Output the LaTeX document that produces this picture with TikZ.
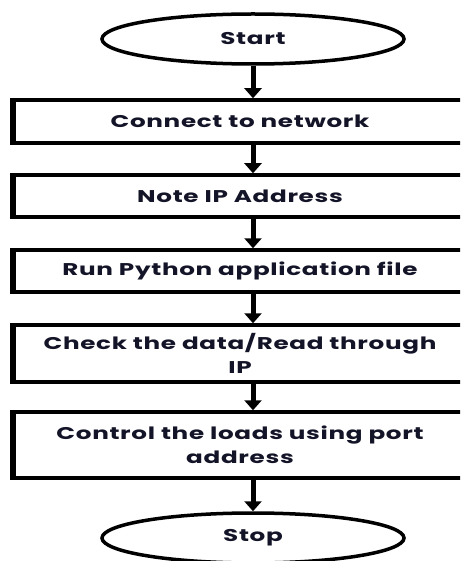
\documentclass[tikz,border=0pt]{standalone}
\usepackage{fontspec}
\setmainfont{Poppins}[UprightFont=* Bold, FakeStretch=1.45, LetterSpace=4]
\usetikzlibrary{arrows.meta,shapes.geometric}
\definecolor{txt}{HTML}{141428}
\tikzset{
  box/.style={draw=black, line width=3.5pt, minimum width=454pt, minimum height=#1, inner sep=0pt, align=center, text=txt, font=\fontsize{17}{24}\selectfont},
  term/.style={draw=black, ellipse, line width=3.5pt, minimum width=302pt, minimum height=50pt, inner sep=0pt, text=txt, font=\fontsize{17}{24}\selectfont},
  arr/.style={line width=5pt, -{Triangle[width=17pt,length=10pt]}},
}
\begin{document}
\begin{tikzpicture}[x=1pt,y=-1pt]
\useasboundingbox (0,0) rectangle (460,561);
\clip (0,0) rectangle (460,561);
\node[term] (start) at (253,39) {Start};
\node[box=43pt] (b1) at (240,121.5) {Connect to network};
\node[box=42pt] (b2) at (240,196) {Note IP Address};
\node[box=42pt] (b3) at (240,271) {Run Python application file};
\node[box=57pt] (b4) at (240,353.5) {Check the data/Read through\\IP};
\node[box=66pt] (b5) at (240,445) {Control the loads using port\\address};
\node[term] (stop) at (253,538) {Stop};
\foreach \b in {b1,b2,b3,b4,b5}{
  \draw[line width=6pt] ([xshift=1.5pt]\b.north west) -- ([xshift=1.5pt]\b.south west);
}
\draw[arr] (start.south) -- (start.south |- b1.north);
\draw[arr] (start.south |- b1.south) -- (start.south |- b2.north);
\draw[arr] (start.south |- b2.south) -- (start.south |- b3.north);
\draw[arr] (start.south |- b3.south) -- (start.south |- b4.north);
\draw[arr] (start.south |- b4.south) -- (start.south |- b5.north);
\draw[arr] (start.south |- b5.south) -- (stop.north);
\end{tikzpicture}
\end{document}
